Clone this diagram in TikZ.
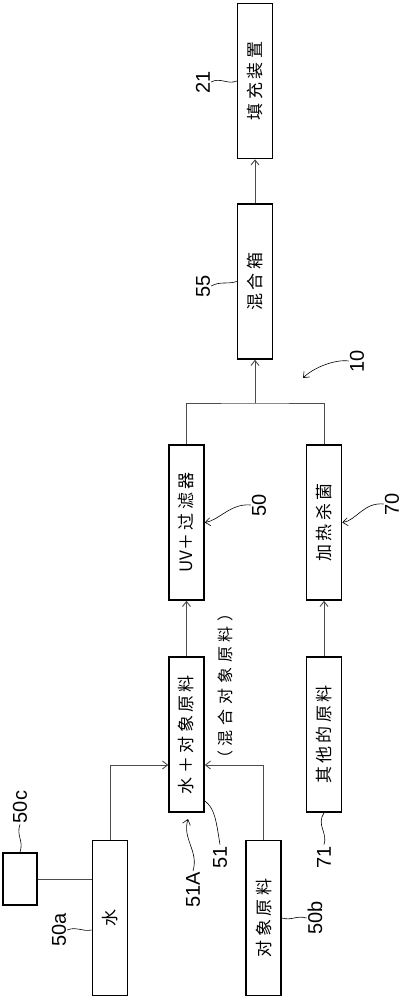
\documentclass[tikz,border=0pt]{standalone}
\usepackage{fontspec}
\setmainfont{Liberation Sans}
\newfontfamily\cjkfont[LetterSpace=20]{Noto Sans CJK SC}
\usetikzlibrary{arrows.meta,calc}

\begin{document}
\begin{tikzpicture}[x=1pt, y=-1pt,
    bloc/.style={draw, line width=1.6pt, minimum width=35pt, minimum height=155pt, inner sep=0pt,
                 font=\cjkfont\fontsize{17}{17}\selectfont},
    trait/.style={line width=0.9pt, black!70},
    fleche/.style={trait, -{Straight Barb[length=5pt,width=8pt]}},
    repere/.style={font=\fontsize{20}{20}\selectfont, inner sep=1pt},
    renvoi/.style={line width=0.6pt},
    renvoifl/.style={renvoi, -{Straight Barb[length=5pt,width=8pt]}}]
    \useasboundingbox (0,0) rectangle (406,1000);

    % Boîtes de la chaîne principale
    \node[bloc] (fill)   at (255,81)    {\rotatebox{90}{填充装置}};
    \node[bloc] (mixbox) at (255,281.5) {\rotatebox{90}{混合箱}};
    \node[bloc] (uv)     at (186.5,522.5) {\rotatebox{90}{{\addfontfeature{LetterSpace=0}UV}＋过滤器}};
    \node[bloc] (heat)   at (324,522.5)   {\rotatebox{90}{加热杀菌}};
    \node[bloc] (mixraw) at (186.5,734.5) {\rotatebox{90}{水＋对象原料}};
    \node[bloc] (other)  at (324,734.5)   {\rotatebox{90}{其他的原料}};
    \node[bloc] (water)  at (110,918)     {\rotatebox{90}{水}};
    \node[bloc] (target) at (263.5,918)   {\rotatebox{90}{对象原料}};
    \node[draw, line width=1.6pt, minimum width=34pt, minimum height=52pt, inner sep=0pt] (ctrl) at (20,879) {};

    % Légende à côté de la boîte 51
    \node[font=\cjkfont\fontsize{16}{16}\selectfont\addfontfeature{LetterSpace=30}, inner sep=0pt] (mixlbl) at (225,686) {\rotatebox{90}{（混合对象原料）}};

    % Points de raccord
    \coordinate (win) at ($(mixraw.west)+(0,30.5)$);
    \coordinate (tin) at ($(mixraw.east)+(0,30.5)$);
    \coordinate (jn)  at (255,403);

    % Liaisons
    \draw[fleche] (water.north) |- (win);
    \draw[fleche] (target.north) |- (tin);
    \draw[fleche] (mixraw.north) -- (uv.south);
    \draw[fleche] (other.north) -- (heat.south);
    \draw[trait] (uv.north) |- (jn) -| (heat.north);
    \draw[fleche] (jn) -- (mixbox.south);
    \draw[fleche] (mixbox.north) -- (fill.south);
    \draw[trait] (ctrl.east) -- (ctrl.east -| water.west);

    % Repères numériques
    \node[repere] (n21)  at (203,82)  {\rotatebox{90}{21}};
    \node[repere] (n55)  at (203,286) {\rotatebox{90}{55}};
    \node[repere] (n10)  at (357,361) {\rotatebox{90}{10}};
    \node[repere] (n50)  at (259,505) {\rotatebox{90}{50}};
    \node[repere] (n70)  at (392,504) {\rotatebox{90}{70}};
    \node[repere] (n51)  at (220,857) {\rotatebox{90}{51}};
    \node[repere] (n51A) at (193,890) {\rotatebox{90}{51A}};
    \node[repere] (n71)  at (324,857) {\rotatebox{90}{71}};
    \node[repere] (n50c) at (20,807)  {\rotatebox{90}{50c}};
    \node[repere] (n50a) at (59,930)  {\rotatebox{90}{50a}};
    \node[repere] (n50b) at (315,918) {\rotatebox{90}{50b}};

    % Traits de renvoi
    \coordinate (p10)  at (303,378);
    \coordinate (p51A) at (188,819);
    \draw[renvoi] (n21.east) .. controls +(9,-5) and +(-9,4) .. (fill.west);
    \draw[renvoi] (n55.east) .. controls +(9,-5) and +(-9,3) .. (mixbox.west);
    \draw[renvoifl] (n10.west) .. controls +(-14,-2) and +(10,-10) .. (p10);
    \draw[renvoifl] (n50.west) .. controls +(-20,-2) and +(14,-2) .. (uv.east);
    \draw[renvoifl] (n70.west) .. controls +(-20,-2) and +(14,-2) .. (heat.east);
    \draw[renvoi] (n51.north) .. controls +(-4,-25) and +(10,8) .. ($(mixraw.south east)+(0,-12)$);
    \draw[renvoifl] (n51A.north) .. controls +(6,-20) and +(-6,20) .. (p51A);
    \draw[renvoi] (other.south) .. controls +(-8,12) and +(4,-12) .. (n71.north);
    \draw[renvoi] (ctrl.north) .. controls +(4,-12) and +(-4,12) .. (n50c.south);
    \draw[renvoi] (n50a.east) .. controls +(10,-4) and +(-10,2) .. (water.west |- n50a.east);
    \draw[renvoi] (target.east) .. controls +(10,3) and +(-10,-3) .. (n50b.west);
\end{tikzpicture}
\end{document}
